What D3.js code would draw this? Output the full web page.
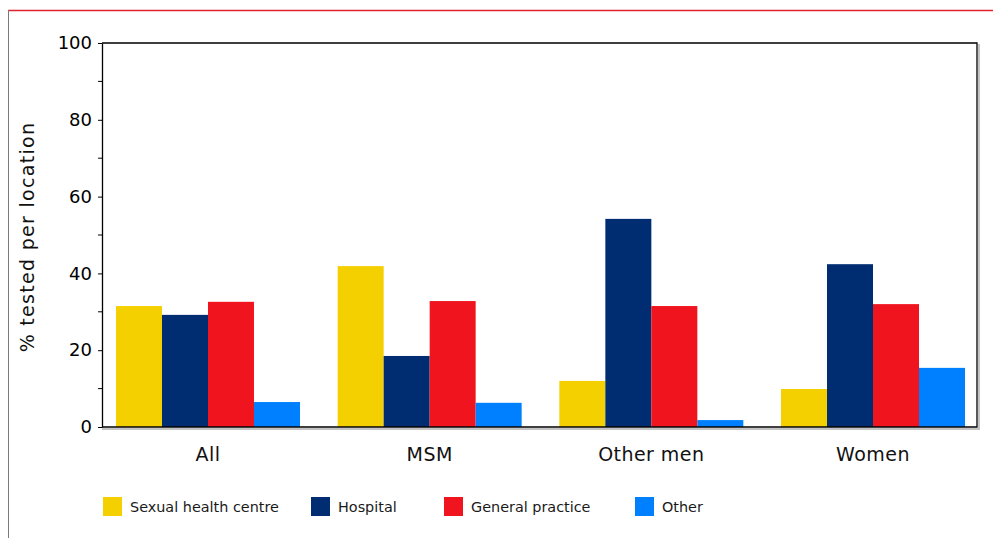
<!DOCTYPE html>
<html>
<head>
<meta charset="utf-8">
<script src="https://cdn.jsdelivr.net/npm/d3@7"></script>
<style>
  html, body { margin: 0; padding: 0; background: #fff; }
  svg { display: block; font-family: "DejaVu Sans", Verdana, sans-serif; }
</style>
</head>
<body>
<svg id="chart" width="993" height="538"></svg>
<script>
// Share of people tested, by testing location and population group
const groups = ["All", "MSM", "Other men", "Women"];
const locations = ["Sexual health centre", "Hospital", "General practice", "Other"];
const colors = ["#F5D000", "#002D72", "#F0141E", "#0080FF"];

const sexualHealthCentre = [31.5, 41.9, 12.0, 9.9];
const hospital = [29.2, 18.5, 54.2, 42.4];
const generalPractice = [32.6, 32.8, 31.5, 32.0];
const other = [6.5, 6.3, 1.8, 15.4];

const yTicks = [0, 20, 40, 60, 80, 100];
const yMinorTicks = [10, 30, 50, 70, 90];

const series = [sexualHealthCentre, hospital, generalPractice, other];

const svg = d3.select("#chart");
const W = 993, H = 538;
const plot = { left: 102, top: 43, right: 977, bottom: 427 };

// outer frame: red rule on top, grey rule at the left
svg.append("line").attr("x1", 8).attr("x2", W).attr("y1", 10.5).attr("y2", 10.5)
  .attr("stroke", "#e3202c").attr("stroke-width", 1.5);
svg.append("line").attr("x1", 8.5).attr("x2", 8.5).attr("y1", 10).attr("y2", H)
  .attr("stroke", "#7a7a7a").attr("stroke-width", 1);

// group bands (bar clusters) and bar bands within each cluster
const x0 = d3.scaleBand().domain(groups).range([116, 965]).paddingInner(0.17).paddingOuter(0);
const x1 = d3.scaleBand().domain(d3.range(locations.length))
  .range([0, x0.bandwidth()]).padding(0);
const y = d3.scaleLinear().domain([0, 100]).range([plot.bottom, plot.top]);

// bars
const g = svg.append("g");
groups.forEach((grp, gi) => {
  series.forEach((vals, si) => {
    g.append("rect")
      .attr("x", x0(grp) + x1(si))
      .attr("y", y(vals[gi]))
      .attr("width", x1.bandwidth())
      .attr("height", y(0) - y(vals[gi]))
      .attr("fill", colors[si]);
  });
});

// plot frame shadow (right and bottom) then frame lines
svg.append("line").attr("x1", plot.right + 2).attr("x2", plot.right + 2)
  .attr("y1", plot.top + 1).attr("y2", plot.bottom + 2).attr("stroke", "#c4c4c4").attr("stroke-width", 2);
svg.append("line").attr("x1", plot.left).attr("x2", plot.right + 3)
  .attr("y1", plot.bottom + 2).attr("y2", plot.bottom + 2).attr("stroke", "#c4c4c4").attr("stroke-width", 2);
svg.append("path")
  .attr("d", `M${plot.left},${plot.top}H${plot.right}V${plot.bottom}H${plot.left}`)
  .attr("fill", "none").attr("stroke", "#000").attr("stroke-width", 1.3);

// y axis
const yAxis = d3.axisLeft(y).tickValues(yTicks).tickSize(4).tickPadding(6).tickSizeOuter(0);
const ya = svg.append("g").attr("transform", `translate(${plot.left},0)`).call(yAxis);
ya.select(".domain").attr("stroke", "#000").attr("stroke-width", 1.3);
ya.selectAll("text").attr("font-size", 18).attr("fill", "#000")
  .attr("font-family", '"DejaVu Sans", Verdana, sans-serif');
ya.selectAll(".minor").data(yMinorTicks).enter().append("line")
  .attr("class", "minor").attr("x1", -4).attr("x2", 0)
  .attr("y1", d => y(d)).attr("y2", d => y(d)).attr("stroke", "#000");

// category labels
svg.append("g").selectAll("text").data(groups).enter().append("text")
  .attr("x", d => x0(d) + x0.bandwidth() / 2)
  .attr("y", 461)
  .attr("text-anchor", "middle")
  .attr("font-size", 19)
  .attr("letter-spacing", 0.45)
  .attr("fill", "#111")
  .text(d => d);

// y axis title
svg.append("text")
  .attr("transform", `translate(34,${(plot.top + plot.bottom) / 2 + 2}) rotate(-90)`)
  .attr("text-anchor", "middle")
  .attr("font-size", 19)
  .attr("letter-spacing", 1.3)
  .attr("fill", "#111")
  .text("% tested per location");

// legend
const legendX = [103, 311, 444, 635];
const lg = svg.append("g");
locations.forEach((name, i) => {
  lg.append("rect").attr("x", legendX[i]).attr("y", 497).attr("width", 19).attr("height", 19)
    .attr("fill", colors[i]);
  lg.append("text").attr("x", legendX[i] + 27).attr("y", 512)
    .attr("font-size", 14.4).attr("fill", "#1a1a1a")
    .attr("font-family", '"DejaVu Sans", Tahoma, sans-serif')
    .text(name);
});
</script>
</body>
</html>
